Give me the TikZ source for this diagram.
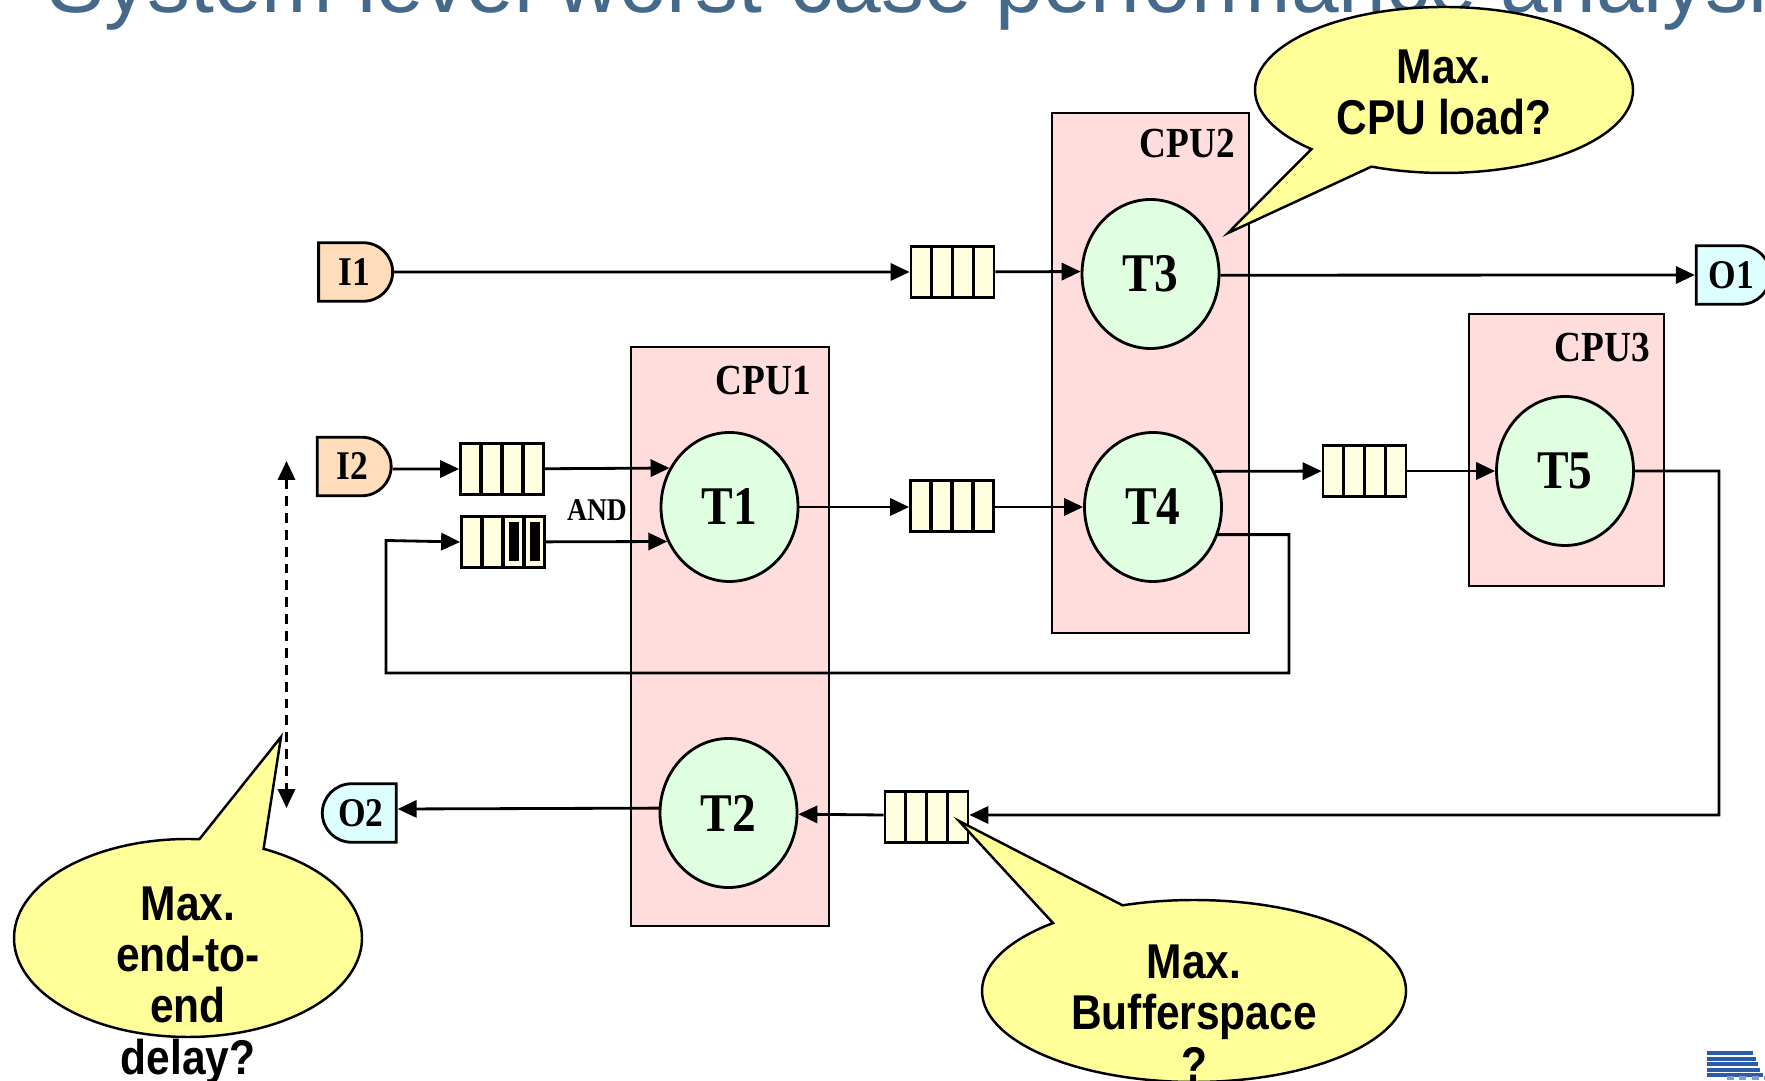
\documentclass[tikz,border=0pt]{standalone}
\usepackage{fontspec}
\usepackage{tikz}
\usetikzlibrary{arrows.meta,shapes.geometric,shapes.misc,shapes.callouts}
\setmainfont[FakeStretch=.87]{Liberation Serif}
\newfontfamily\bubblefont[FakeStretch=.87]{Liberation Sans}
\newfontfamily\titlefont{Liberation Sans}
\definecolor{titleblue}{HTML}{44698A}
\definecolor{logoblue}{HTML}{2A5CAA}
\definecolor{cpufill}{HTML}{FFDDDD}
\definecolor{taskfill}{HTML}{E0FFE0}
\definecolor{queuefill}{HTML}{FFFFE0}
\definecolor{inputfill}{HTML}{FFDDBB}
\definecolor{outputfill}{HTML}{DDFFFF}
\definecolor{bubblefill}{HTML}{FFFF99}
\tikzset{
    cpubox/.style={draw, fill=cpufill, line width=.8pt, inner sep=0pt},
    cpulabel/.style={anchor=north east, inner sep=0pt, font=\fontsize{12.2}{14}\selectfont\bfseries},
    taskellipse/.style={ellipse, draw, fill=taskfill, line width=.8pt, inner sep=0pt,
        minimum width=1.37cm, minimum height=1.49cm, font=\fontsize{15.5}{18}\selectfont\bfseries},
    queue/.style={draw, fill=queuefill, line width=.8pt, inner sep=0pt,
        minimum width=.83cm, minimum height=.51cm,
        path picture={\foreach \i in {-.21,0,.21}
            \draw[line width=.9pt] ([xshift=\i cm]path picture bounding box.north)
                -- ([xshift=\i cm]path picture bounding box.south);}},
    queuebusy/.style={queue,
        path picture={\foreach \i in {-.21,0,.21}
            \draw[line width=.9pt] ([xshift=\i cm]path picture bounding box.north)
                -- ([xshift=\i cm]path picture bounding box.south);
            \foreach \i in {.105,.315}
            \fill[black] ([xshift=\i cm-.05cm,yshift=-.195cm]path picture bounding box.center)
                rectangle ([xshift=\i cm+.05cm,yshift=.195cm]path picture bounding box.center);}},
    portbox/.style={rounded rectangle, draw, line width=.8pt, inner sep=0pt,
        minimum width=.74cm, minimum height=.585cm, font=\fontsize{11.6}{14}\selectfont\bfseries},
    inputport/.style={portbox, fill=inputfill, rounded rectangle west arc=none},
    outputport/.style={portbox, fill=outputfill, rounded rectangle west arc=none},
    leftport/.style={portbox, fill=outputfill, rounded rectangle east arc=none},
    bubble/.style={ellipse callout, draw, fill=bubblefill, line width=.7pt, inner sep=0pt,
        callout pointer arc=22},
    bubbletext/.style={align=center, inner sep=0pt, font=\bubblefont\fontsize{13.9}{14.6}\selectfont\bfseries},
}

\begin{document}
\begin{tikzpicture}[>={Triangle[length=5.4pt,width=4.9pt]}, line width=.8pt]
    \useasboundingbox (0, 0) rectangle (17.65, 10.8);
    \clip (0, 0) rectangle (17.65, 10.8);

    % Title, cut off by the top edge
    \node[anchor=base west, inner sep=0pt, text=titleblue, font=\titlefont\fontsize{24.4}{28}\selectfont]
        (title) at (.46, 10.67) {System level worst-case performance analysis};

    % Logo
    \foreach \y/\xend in {.27/17.53, .21/17.56, .16/17.58, .10/17.60, .05/17.63}
        \draw[logoblue, line width=1.1pt] (17.07, \y) -- (\xend, \y);
    \draw[logoblue!60, line width=1.2pt, dash pattern=on 2pt off 1.5pt] (17.27, .02) -- (17.65, .02);

    % CPU boxes
    \node[cpubox, minimum width=1.98cm, minimum height=5.79cm] (cpu1) at (7.30, 4.435) {};
    \node[cpubox, minimum width=1.97cm, minimum height=5.20cm] (cpu2) at (11.505, 7.07) {};
    \node[cpubox, minimum width=1.95cm, minimum height=2.72cm] (cpu3) at (15.665, 6.30) {};
    \node[cpulabel] (cpu1label) at (8.125, 7.15) {CPU1};
    \node[cpulabel] (cpu2label) at (12.365, 9.52) {CPU2};
    \node[cpulabel] (cpu3label) at (16.515, 7.48) {CPU3};

    % Tasks
    \node[taskellipse] (T1) at (7.295, 5.73) {T1};
    \node[taskellipse] (T2) at (7.285, 2.67) {T2};
    \node[taskellipse] (T3) at (11.505, 8.06) {T3};
    \node[taskellipse] (T4) at (11.53, 5.73) {T4};
    \node[taskellipse] (T5) at (15.65, 6.09) {T5};

    % Queues
    \node[queue] (q1) at (9.525, 8.08) {};
    \node[queue] (q2) at (5.02, 6.11) {};
    \node[queuebusy] (q3) at (5.03, 5.38) {};
    \node[queue] (q4) at (9.52, 5.74) {};
    \node[queue] (q5) at (13.645, 6.09) {};
    \node[queue] (q6) at (9.265, 2.63) {};

    % Inputs and outputs
    \node[inputport] (I1) at (3.54, 8.08) {I1};
    \node[inputport] (I2) at (3.525, 6.135) {I2};
    \node[outputport] (O1) at (17.315, 8.05) {O1};
    \node[leftport] (O2) at (3.61, 2.67) {O2};
    \node[anchor=base, inner sep=0pt, font=\fontsize{9}{11}\selectfont\bfseries] (andlabel) at (5.97, 5.59) {AND};

    % Helper points for the long wires
    \coordinate (fbright) at (12.89, 4.07);
    \coordinate (fbleft) at (3.86, 4.07);
    \coordinate (fbup) at (3.86, 5.395);
    \coordinate (t5down) at (17.19, 2.65);
    \coordinate (e2etop) at (2.865, 6.19);
    \coordinate (e2ebottom) at (2.865, 2.72);

    % Wires
    \draw[->] (I1) -- (q1);
    \draw[->] (q1) -- (T3.178.3);
    \draw[->] (T3.-1) -- (O1);
    \draw[->] ([yshift=-.025cm]I2.east) -- (q2);
    \draw[->] (q2) -- (T1.147.4);
    \draw[->] (q3) -- (T1.209.8);
    \draw[->] (T1.0.8) -- (q4.west |- T1.0.8);
    \draw[->] (q4.east |- T4.west) -- (T4);
    \draw[->] (T4.30.8) -- (q5);
    \draw[->] (q5) -- (T5);
    \draw[->] (T4.-23.6) -| (fbright) -- (fbleft) -- (fbup) -- (q3.west);
    \draw[->] (T5) -| (t5down) -- ([yshift=.02cm]q6.east);
    \draw[->] ([yshift=.02cm]q6.west) -- (T2.-1.7);
    \draw[->] (T2.176.7) -- ([yshift=.04cm]O2.east);

    % End-to-end span
    \draw[<->, dashed, dash pattern=on 2.8pt off 2pt] (e2etop) -- (e2ebottom);

    % Question bubbles
    \node[bubble, minimum width=3.78cm, minimum height=1.66cm, callout absolute pointer={(12.28, 8.47)}] (loadbubble) at (14.44, 9.90) {};
    \node[bubble, minimum width=3.48cm, minimum height=1.98cm, callout absolute pointer={(2.81, 3.43)}] (delaybubble) at (1.88, 1.42) {};
    \node[bubble, minimum width=4.24cm, minimum height=1.82cm, callout absolute pointer={(9.59, 2.59)}] (bufferbubble) at (11.94, .89) {};
    \node[bubbletext] (loadtext) at (14.44, 9.875) {Max.\\CPU load?};
    \node[bubbletext] (delaytext) at (1.88, .945) {Max.\\end-to-\\end\\delay?};
    \node[bubbletext] (buffertext) at (11.94, .67) {Max.\\Bufferspace\\?};
\end{tikzpicture}
\end{document}
